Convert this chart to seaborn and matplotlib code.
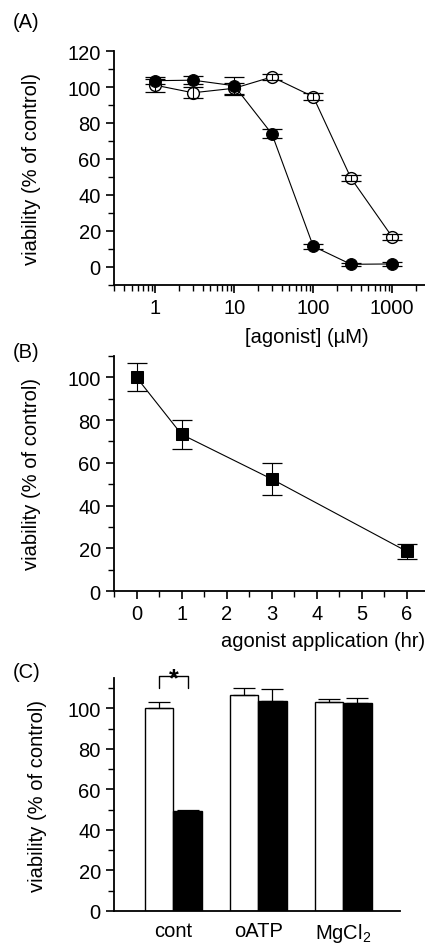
import numpy as np
import pandas as pd
import seaborn as sns
import matplotlib
matplotlib.use("Agg")
import matplotlib.pyplot as plt
from matplotlib.ticker import MultipleLocator, LogLocator, NullFormatter, FixedLocator

# panel A: dose response
conc = [1, 3, 10, 30, 100, 300, 1000]
filled_mean = [103.5, 103.8, 100.7, 73.9, 11.5, 1.5, 1.7]
filled_err = [2.0, 2.4, 5.0, 2.5, 1.5, 1.0, 1.0]
open_mean = [101.0, 96.8, 99.3, 105.6, 94.6, 49.4, 16.7]
open_err = [3.6, 3.0, 3.0, 1.5, 2.0, 1.5, 1.5]

# panel B: time course
hours = [0, 1, 3, 6]
time_mean = [100.0, 73.3, 52.4, 18.5]
time_err = [6.5, 6.8, 7.3, 3.3]

# panel C: bars
groups = ["cont", "oATP", "MgCl$_2$"]
ctrl_mean = [100.0, 106.7, 103.2]
ctrl_err = [3.4, 3.3, 1.5]
ago_mean = [49.2, 103.6, 102.5]
ago_err = [0.6, 6.2, 2.5]

sns.set_style("ticks")
plt.rcParams["font.family"] = ["Liberation Sans", "DejaVu Sans"]
plt.rcParams["mathtext.fontset"] = "custom"
plt.rcParams["mathtext.rm"] = "Liberation Sans"
plt.rcParams["font.size"] = 14.5
for k in ["text.color", "axes.labelcolor", "xtick.color", "ytick.color", "axes.edgecolor"]:
    plt.rcParams[k] = "black"
plt.rcParams["axes.linewidth"] = 1.3
plt.rcParams["xtick.major.width"] = 1.2
plt.rcParams["ytick.major.width"] = 1.2
plt.rcParams["xtick.minor.width"] = 1.0
plt.rcParams["ytick.minor.width"] = 1.0
plt.rcParams["xtick.major.size"] = 6
plt.rcParams["ytick.major.size"] = 6
plt.rcParams["xtick.minor.size"] = 4
plt.rcParams["ytick.minor.size"] = 4

W, H = 425, 945
fig = plt.figure(figsize=(W / 100, H / 100), dpi=100)

def frac(left, top, right, bottom):
    return [left / W, 1 - bottom / H, (right - left) / W, (bottom - top) / H]

axA = fig.add_axes(frac(114, 52, 425, 286))
axB = fig.add_axes(frac(114, 357, 425, 592))
axC = fig.add_axes(frac(114, 679, 400, 912))

ylab = "viability (% of control)"
eb = dict(fmt="none", ecolor="black", elinewidth=0.8, capsize=7.5, capthick=0.9, zorder=4)

# ---- A
axA.set_xscale("log")
dfA = pd.DataFrame({"conc": conc, "filled": filled_mean, "open": open_mean})
sns.lineplot(data=dfA, x="conc", y="open", ax=axA, color="black", linewidth=0.8,
             marker="o", markersize=8.5, markerfacecolor="white", markeredgecolor="black",
             markeredgewidth=1.0, zorder=2)
axA.errorbar(conc, open_mean, yerr=open_err, **eb)
sns.lineplot(data=dfA, x="conc", y="filled", ax=axA, color="black", linewidth=0.8,
             marker="o", markersize=8.5, markerfacecolor="black", markeredgecolor="black",
             zorder=5)
axA.errorbar(conc, filled_mean, yerr=filled_err, **eb)
axA.set_xlim(0.3, 2600)
axA.set_ylim(-10, 120)
axA.xaxis.set_major_locator(FixedLocator([1, 10, 100, 1000]))
axA.set_xticklabels(["1", "10", "100", "1000"])
axA.xaxis.set_minor_locator(LogLocator(base=10, subs=np.arange(2, 10), numticks=20))
axA.xaxis.set_minor_formatter(NullFormatter())
axA.yaxis.set_major_locator(MultipleLocator(20))
axA.yaxis.set_minor_locator(MultipleLocator(10))
axA.set_ylabel(ylab)
axA.set_xlabel("[agonist] (µM)")
axA.xaxis.set_label_coords(0.62, -0.18)

# ---- B
dfB = pd.DataFrame({"hours": hours, "viab": time_mean})
sns.lineplot(data=dfB, x="hours", y="viab", ax=axB, color="black", linewidth=0.8,
             marker="s", markersize=8.5, markerfacecolor="black", markeredgecolor="black",
             zorder=3)
axB.errorbar(hours, time_mean, yerr=time_err, **eb)
axB.set_xlim(-0.5, 6.4)
axB.set_ylim(0, 110)
axB.xaxis.set_major_locator(MultipleLocator(1))
axB.xaxis.set_minor_locator(MultipleLocator(0.5))
axB.yaxis.set_major_locator(MultipleLocator(20))
axB.yaxis.set_minor_locator(MultipleLocator(10))
axB.set_ylabel(ylab)
axB.set_xlabel("agonist application (hr)", ha="right")
axB.xaxis.set_label_coords(1.0, -0.17)

# ---- C
dfC = pd.DataFrame({
    "group": groups * 2,
    "cond": ["ctrl"] * 3 + ["agonist"] * 3,
    "viab": ctrl_mean + ago_mean,
})
sns.barplot(data=dfC, x="group", y="viab", hue="cond", ax=axC, order=groups,
            hue_order=["ctrl", "agonist"], palette={"ctrl": "white", "agonist": "black"},
            edgecolor="black", linewidth=1.0, width=0.67, errorbar=None, legend=False)
for cont, errs in zip(axC.containers, [ctrl_err, ago_err]):
    xs = [p.get_x() + p.get_width() / 2 for p in cont.patches]
    hs = [p.get_height() for p in cont.patches]
    axC.errorbar(xs, hs, yerr=[[0] * len(errs), errs], fmt="none", ecolor="black",
                 elinewidth=0.9, capsize=8, capthick=0.9, zorder=1)
axC.set_xlim(-0.7, 2.67)
axC.set_ylim(0, 115)
axC.yaxis.set_major_locator(MultipleLocator(20))
axC.yaxis.set_minor_locator(MultipleLocator(10))
axC.tick_params(axis="x", length=0, pad=7)
axC.set_xlabel("")
axC.set_ylabel(ylab)
# significance bracket
xl = axC.containers[0].patches[0]
xr = axC.containers[1].patches[0]
x0 = xl.get_x() + xl.get_width() * 0.5
x1 = xr.get_x() + xr.get_width() * 0.5
axC.plot([x0, x0, x1, x1], [110.0, 115.8, 115.8, 110.0], color="black", lw=1.0, clip_on=False)
axC.text((x0 + x1) / 2, 111.5, "*", ha="center", va="baseline", fontsize=18,
         fontweight="bold", clip_on=False)

for ax in (axA, axB, axC):
    sns.despine(ax=ax)
    ax.tick_params(which="both", direction="out")
    ax.yaxis.set_label_coords(-0.235, 0.5)

fig.text(13 / W, 1 - 22 / H, "(A)", ha="left", va="center")
fig.text(13 / W, 1 - 353 / H, "(B)", ha="left", va="center")
fig.text(13 / W, 1 - 672 / H, "(C)", ha="left", va="center")

fig.savefig("out.png", dpi=100)
